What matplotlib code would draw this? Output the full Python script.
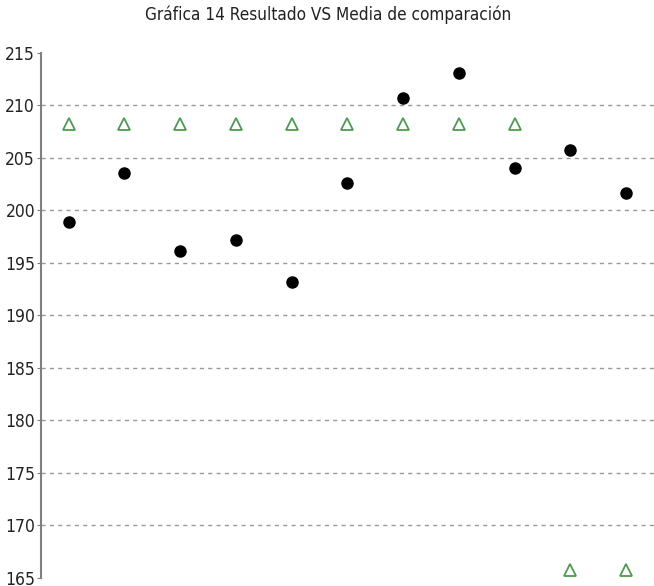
import matplotlib
matplotlib.use("Agg")
import matplotlib.pyplot as plt

# data
muestras = list(range(1, 12))
resultado = [198.9, 203.5, 196.1, 197.1, 193.1, 202.6, 210.7, 213.1, 204.0, 205.7, 201.6]
media = [208.2, 208.2, 208.2, 208.2, 208.2, 208.2, 208.2, 208.2, 208.2, 165.7, 165.7]
y_ticks = [165, 170, 175, 180, 185, 190, 195, 200, 205, 210, 215]

plt.rcParams["font.family"] = ["DejaVu Sans"]
plt.rcParams["font.stretch"] = "condensed"

fig = plt.figure(figsize=(6.54, 5.86), dpi=100)
ax = fig.add_axes([0.0622, 0.0145, 0.9378, 0.8958])

# grid lines (only inner values)
for v in y_ticks[1:-1]:
    ax.axhline(v, color="#9a9a9a", linestyle=(0, (3, 3)), linewidth=1.0, zorder=1)

ax.plot(muestras, media, linestyle="none", marker="^", markersize=8,
        markerfacecolor="none", markeredgecolor="#4e9a4e", markeredgewidth=1.3, zorder=3)
ax.plot(muestras, resultado, linestyle="none", marker="o", markersize=8,
        color="black", zorder=3)

ax.set_xlim(0.5, 11.5)
ax.set_ylim(165, 215)
ax.set_yticks(y_ticks)
ax.set_yticklabels([str(v) for v in y_ticks], fontsize=12.5, color="#222222",
                   fontstretch="condensed")
ax.set_xticks([])

for s in ["top", "right", "bottom"]:
    ax.spines[s].set_visible(False)
ax.spines["left"].set_color("#808080")
ax.spines["left"].set_linewidth(1.5)
ax.tick_params(axis="y", length=3, color="#808080", pad=1)

fig.text(0.502, 0.975, "Gráfica 14 Resultado VS Media de comparación",
         ha="center", va="center", fontsize=12.3, color="#222222",
         fontstretch="condensed")

fig.savefig("out.png", dpi=100)
